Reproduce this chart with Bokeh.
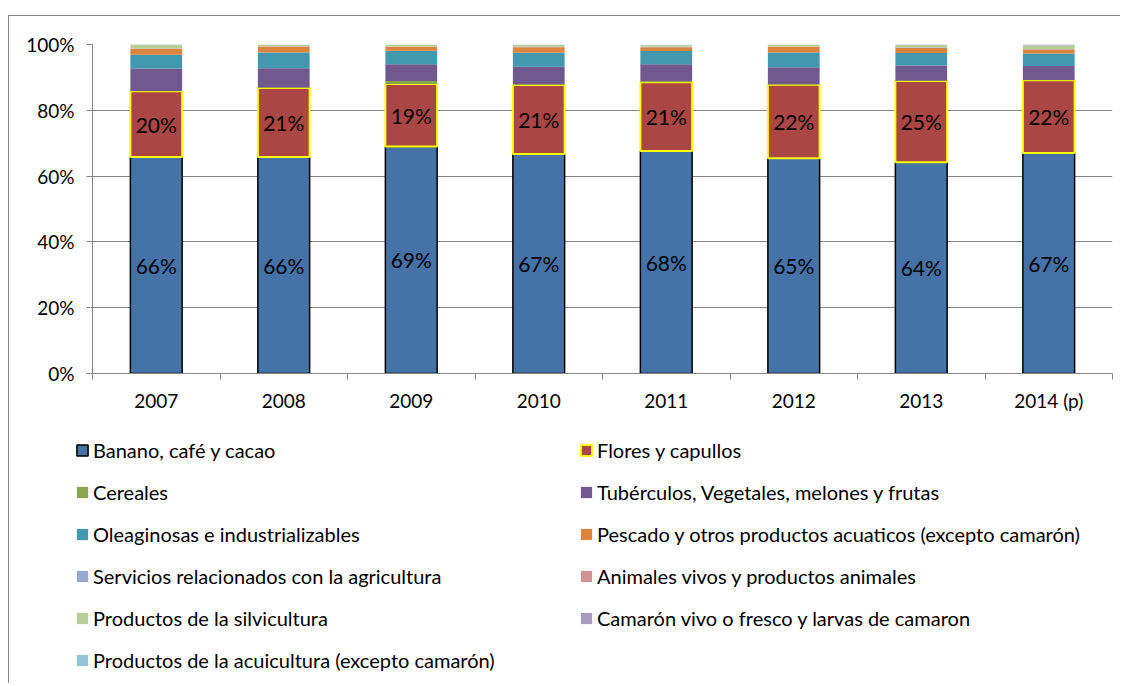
from bokeh.plotting import figure
from bokeh.layouts import column
from bokeh.models import (ColumnDataSource, Legend, LegendItem, FixedTicker,
                          PrintfTickFormatter, Range1d, LabelSet)
from bokeh.core.properties import value
from bokeh.embed import file_html
from bokeh.resources import INLINE

years = ["2007", "2008", "2009", "2010", "2011", "2012", "2013", "2014 (p)"]

banano       = [65.8, 65.8, 69.0, 66.7, 67.6, 65.4, 64.2, 67.0]
flores       = [20.0, 21.0, 19.0, 21.0, 20.9, 22.4, 24.7, 22.1]
cereales     = [0.1, 0.1, 0.9, 0.2, 0.3, 0.1, 0.1, 0.1]
tuberculos   = [6.8, 5.9, 5.1, 5.3, 5.2, 5.2, 4.6, 4.3]
oleaginosas  = [4.2, 4.8, 4.1, 4.3, 4.0, 4.5, 3.8, 3.8]
pescado      = [1.7, 1.7, 1.2, 1.7, 1.2, 1.7, 1.5, 1.2]
servicios    = [0.05, 0.05, 0.05, 0.05, 0.05, 0.05, 0.2, 0.05]
animales     = [0.1, 0.1, 0.05, 0.05, 0.05, 0.05, 0.05, 0.05]
silvicultura = [1.1, 0.45, 0.5, 0.6, 0.45, 0.5, 0.7, 1.1]
camaron      = [0.05, 0.05, 0.05, 0.05, 0.05, 0.05, 0.1, 0.25]
acuicultura  = [0.1, 0.05, 0.05, 0.05, 0.2, 0.05, 0.05, 0.05]

series_names = [
    "Banano, café y cacao",
    "Flores y capullos",
    "Cereales",
    "Tubérculos, Vegetales, melones y frutas",
    "Oleaginosas e industrializables",
    "Pescado y otros productos acuaticos (excepto camarón)",
    "Servicios relacionados con la agricultura",
    "Animales vivos y productos animales",
    "Productos de la silvicultura",
    "Camarón vivo o fresco y larvas de camaron",
    "Productos de la acuicultura (excepto camarón)",
]
keys = ["banano", "flores", "cereales", "tuberculos", "oleaginosas", "pescado",
        "servicios", "animales", "silvicultura", "camaron", "acuicultura"]
values = [banano, flores, cereales, tuberculos, oleaginosas, pescado,
          servicios, animales, silvicultura, camaron, acuicultura]
colors = ["#4572A7", "#AA4643", "#89A54E", "#71588F", "#4198AF", "#DB843D",
          "#93A9CF", "#D19392", "#B9CD96", "#A99BBD", "#92C3D6"]
line_colors = ["#000000", "#FFFF00"] + [None] * 9
line_widths = [1.5, 2] + [0] * 9

FONT = "Lato"
GRID = "#868686"

x = list(range(1, len(years) + 1))
data = {"x": x}
for k, v in zip(keys, values):
    data[k] = v
data["y_ban"] = [b / 2 for b in banano]
data["y_flo"] = [b + f / 2 for b, f in zip(banano, flores)]
data["t_ban"] = [f"{round(b)}%" for b in banano]
data["t_flo"] = [f"{round(f)}%" for f in flores]
src = ColumnDataSource(data)

# ---------------- chart ----------------
p = figure(width=1112, height=398, output_backend="svg", toolbar_location=None,
           x_range=Range1d(0.5, len(years) + 0.5), y_range=Range1d(0, 100),
           min_border_left=83, min_border_top=28, min_border_right=9,
           min_border_bottom=40)
p.margin = (15, 0, 0, 8)
p.frame_align = False
p.styles = {"border-top": "1px solid #868686", "border-left": "1px solid #868686"}
p.outline_line_color = None

renderers = p.vbar_stack(keys, x="x", width=0.406, source=src,
                         fill_color=colors, line_color=line_colors,
                         line_width=line_widths)

for col, tcol in [("y_ban", "t_ban"), ("y_flo", "t_flo")]:
    p.add_layout(LabelSet(x="x", y=col, text=tcol, source=src,
                          text_align="center", text_baseline="middle",
                          text_font=value(FONT), text_font_size="21px",
                          text_color="#000000"))

p.xgrid.visible = False
p.ygrid.grid_line_color = GRID
p.ygrid.ticker = FixedTicker(ticks=[0, 20, 40, 60, 80, 100])

p.yaxis.ticker = FixedTicker(ticks=[0, 20, 40, 60, 80, 100])
p.yaxis.formatter = PrintfTickFormatter(format="%d%%")
p.yaxis.axis_line_color = GRID
p.yaxis.major_tick_line_color = GRID
p.yaxis.major_tick_out = 6
p.yaxis.major_tick_in = 0
p.yaxis.minor_tick_line_color = None
p.yaxis.major_label_text_font = FONT
p.yaxis.major_label_text_font_size = "19px"
p.yaxis.major_label_text_color = "#000000"
p.yaxis.major_label_standoff = 12

p.xaxis.ticker = FixedTicker(ticks=x, minor_ticks=[i + 0.5 for i in range(0, len(years) + 1)])
p.xaxis.major_label_overrides = {i: y for i, y in zip(x, years)}
p.xaxis.axis_line_color = GRID
p.xaxis.major_tick_line_color = None
p.xaxis.major_tick_out = 6
p.xaxis.major_tick_in = 0
p.xaxis.minor_tick_line_color = GRID
p.xaxis.minor_tick_out = 6
p.xaxis.minor_tick_in = 0
p.xaxis.major_label_text_font = FONT
p.xaxis.major_label_text_font_size = "19px"
p.xaxis.major_label_text_color = "#000000"
p.xaxis.major_label_standoff = 9

# ---------------- legend area ----------------
# A second canvas holds the legend; its proxy bars use the same data but lie
# outside this canvas's visible range, so only their legend swatches show.
q = figure(width=1112, height=270, output_backend="svg", toolbar_location=None,
           x_range=Range1d(-20, -19), y_range=Range1d(0, 1),
           x_axis_type=None, y_axis_type=None,
           min_border=0)
q.margin = (0, 0, 0, 8)
q.frame_align = False
q.styles = {"border-left": "1px solid #868686"}
q.outline_line_color = None
q.grid.visible = False

proxies = []
for k, c, lc, lw in zip(keys, colors, line_colors, line_widths):
    proxies.append(q.vbar(x="x", top=k, width=0.4, source=src, fill_color=c,
                          line_color=lc, line_width=lw))

# two columns, filled column by column (left column = even entries)
order = list(range(0, len(series_names), 2)) + list(range(1, len(series_names), 2))
items = [LegendItem(label=series_names[i], renderers=[proxies[i]]) for i in order]
legend = Legend(items=items, location=(66, 11), orientation="vertical", nrows=6,
                glyph_width=14, glyph_height=14, label_standoff=4,
                label_width=468, label_height=22, spacing=18,
                padding=0, margin=0, border_line_color=None,
                background_fill_alpha=0, label_text_font=FONT,
                label_text_font_size="20px", label_text_color="#000000")
q.add_layout(legend, "center")

layout = column(p, q, spacing=0)
open("out.html", "w").write(file_html(layout, INLINE))
